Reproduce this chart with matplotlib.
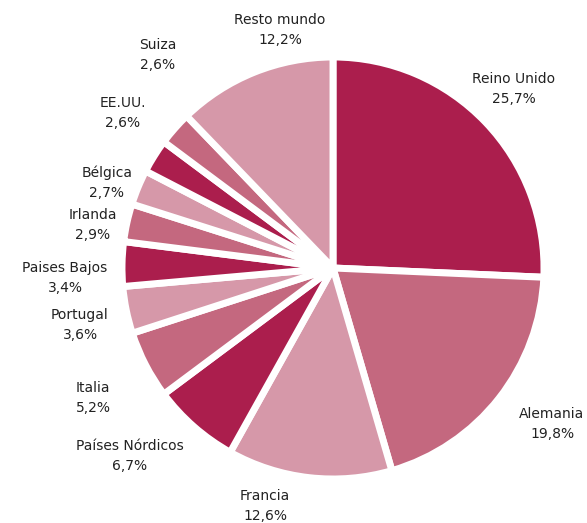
import matplotlib
matplotlib.use("Agg")
import matplotlib.pyplot as plt

categories = ["Reino Unido", "Alemania", "Francia", "Países Nórdicos", "Italia",
              "Portugal", "Paises Bajos", "Irlanda", "Bélgica", "EE.UU.", "Suiza",
              "Resto mundo"]
values = [25.7, 19.8, 12.6, 6.7, 5.2, 3.6, 3.4, 2.9, 2.7, 2.6, 2.6, 12.2]

dark, medium, light = "#AB1E4D", "#C4687F", "#D698A9"
colors = [dark, medium, light] * 4

# label centre positions in pixels (first line centre)
label_px = [(514, 79), (552, 414), (265, 496), (130, 446), (93, 388), (80, 315),
            (65, 268), (93, 215), (107, 173), (123, 103), (158, 45), (280, 20)]

W, H = 587, 523
fig = plt.figure(figsize=(W / 100, H / 100), dpi=100)
cx, cy, r = 333, 268, 211
ax = fig.add_axes([(cx - r) / W, (H - cy - r) / H, 2 * r / W, 2 * r / H])
ax.pie(values, colors=colors, startangle=90, counterclock=False, radius=1,
       wedgeprops=dict(edgecolor="white", linewidth=5, joinstyle="round"))
ax.set_xlim(-1, 1)
ax.set_ylim(-1, 1)
ax.set_aspect("auto")
ax.axis("off")

for name, v, (px, py) in zip(categories, values, label_px):
    pct = f"{v:.1f}%".replace(".", ",")
    fig.text(px / W, 1 - py / H, name, ha="center", va="center",
             fontsize=10, color="#222222")
    fig.text(px / W, 1 - (py + 20) / H, pct, ha="center", va="center",
             fontsize=10, color="#222222")

fig.savefig("out.png", dpi=100, facecolor="white")
